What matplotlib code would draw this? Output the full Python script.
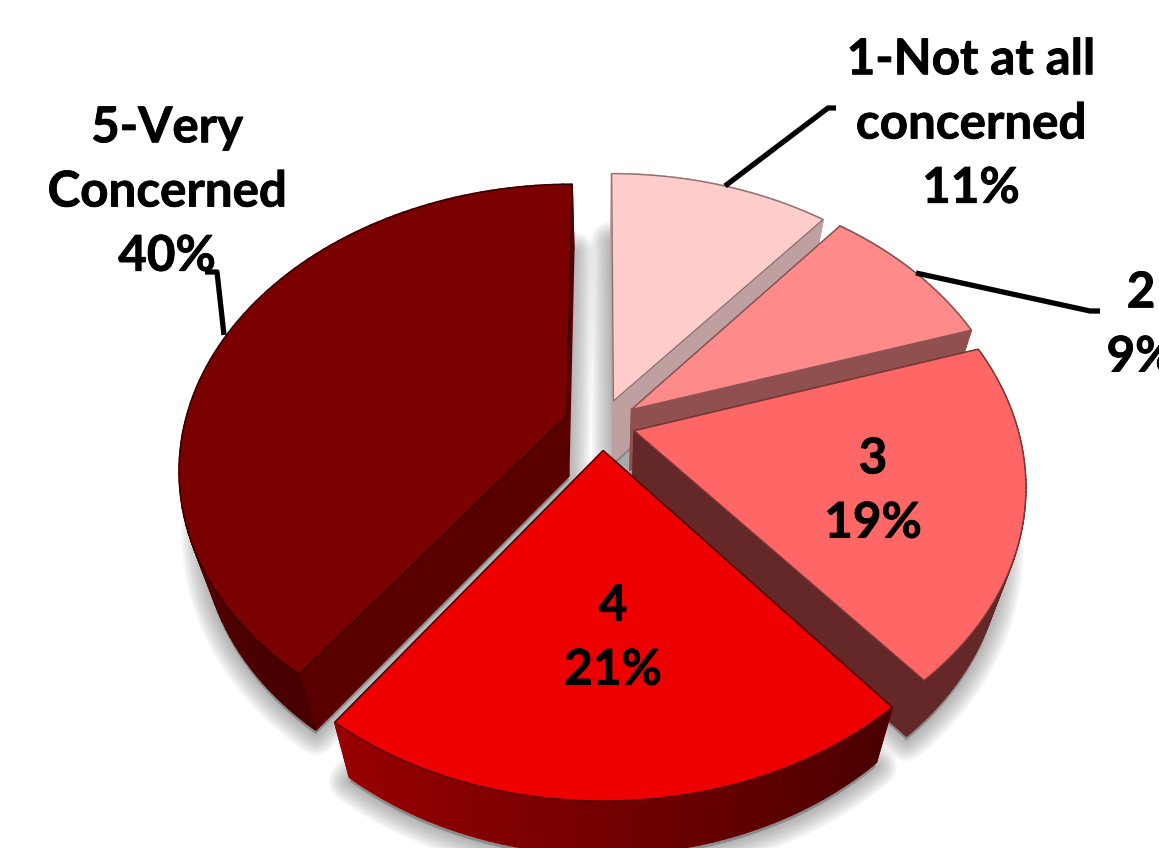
import numpy as np
import matplotlib
matplotlib.use("Agg")
import matplotlib.pyplot as plt
import matplotlib.patheffects as pe
from matplotlib.colors import to_rgb
from matplotlib.patches import Polygon

categories = ["1-Not at all\nconcerned", "2", "3", "4", "5-Very\nConcerned"]
values = [11, 9, 19, 21, 40]
explode = [0.09, 0.095, 0.088, 0.095, 0.098]

top_colors = ["#FFCCCC", "#FF8A8A", "#FF6666", "#EE0000", "#7B0000"]
edge_colors = ["#8a7070", "#8a5555", "#7a3a3a", "#500000", "#300000"]
radial_colors = ["#BFA0A0", "#905050", "#652828", "#600000", "#5A0000"]
outer_start = ["#BFA0A0", "#905050", "#652828", "#4A0000", "#480000"]
outer_end = ["#BFA0A0", "#905050", "#652828", "#990000", "#7A0000"]

CX, CY, R, S, K = 602.0, 424.0, 382.0, 276.0, 0.181
SX, SY, DY = 0.945, 0.982, 68.0


def project(x, y):
    w = 1 + K * y
    return CX + R * x / w, CY - S * y / w


def lower(px, py):
    return CX + SX * (px - CX), SY * py + DY


fig = plt.figure(figsize=(11.59, 8.48), dpi=100)
ax = fig.add_axes([0, 0, 1, 1])
ax.set_xlim(0, 1159)
ax.set_ylim(848, 0)
ax.axis("off")

shares = np.array(values, dtype=float) / sum(values)
ends = np.cumsum(shares) * 2 * np.pi
starts = ends - shares * 2 * np.pi

slices = []
for s0, s1, d in zip(starts, ends, explode):
    mid = (s0 + s1) / 2
    ox, oy = d * np.sin(mid), d * np.cos(mid)
    th = np.linspace(s0, s1, 90)
    ax_, ay_ = project(ox, oy)
    rx, ry = project(ox + np.sin(th), oy + np.cos(th))
    slices.append(((ax_, ay_), rx, ry))

# soft shadow under every slice
for (apex, rx, ry) in slices:
    lx, ly = lower(np.r_[apex[0], rx], np.r_[apex[1], ry])
    pts = np.c_[lx, ly + 4]
    for lw in range(30, 0, -3):
        ax.add_patch(Polygon(pts, closed=True, fc="#555555", ec="#555555", lw=lw,
                             alpha=0.05, joinstyle="round", zorder=1))


def face(pts, color, z):
    ax.add_patch(Polygon(pts, closed=True, fc=color, ec=color, lw=1.3, zorder=z))


order = [0, 1, 4, 2, 3]
for n, i in enumerate(order):
    apex, rx, ry = slices[i]
    z = 2 + n
    faces = []
    lax, lay = lower(*apex)
    lrx, lry = lower(rx, ry)
    faces.append((np.mean([apex[1], ry[0]]),
                  [apex, (rx[0], ry[0]), (lrx[0], lry[0]), (lax, lay)], radial_colors[i]))
    faces.append((np.mean([apex[1], ry[-1]]),
                  [apex, (rx[-1], ry[-1]), (lrx[-1], lry[-1]), (lax, lay)], radial_colors[i]))
    c0, c1 = np.array(to_rgb(outer_start[i])), np.array(to_rgb(outer_end[i]))
    for j in range(len(rx) - 1):
        t = j / (len(rx) - 2)
        col = c0 + (c1 - c0) * t
        faces.append(((ry[j] + ry[j + 1]) / 2,
                      [(rx[j], ry[j]), (rx[j + 1], ry[j + 1]),
                       (lrx[j + 1], lry[j + 1]), (lrx[j], lry[j])], tuple(col)))
    for _, pts, col in sorted(faces, key=lambda f: f[0]):
        face(pts, col, z)
    ax.add_patch(Polygon(np.c_[np.r_[apex[0], rx], np.r_[apex[1], ry]], closed=True,
                         fc=top_colors[i], ec=edge_colors[i], lw=0.9, zorder=z))

font = dict(family="Lato", fontweight="bold", fontsize=35.5, color="black", zorder=20,
            ha="center", va="center", linespacing=1.52,
            path_effects=[pe.withStroke(linewidth=0.6, foreground="black")])
pct = [f"{v}%" for v in values]
label_xy = [(971, 124), (1141, 325), (873, 491), (613, 638), (167, 192)]
for name, p, (x, y) in zip(categories, pct, label_xy):
    ax.text(x, y, f"{name}\n{p}", **font)

leaders = [
    ([725, 828, 836], [186, 108, 108]),
    ([916, 1090, 1100], [273, 311, 311]),
    ([224, 217, 205], [335, 272, 272]),
]
for lx, ly in leaders:
    ax.plot(lx, ly, color="black", lw=3.8, solid_capstyle="butt", zorder=15)

fig.savefig("out.png", dpi=100)
